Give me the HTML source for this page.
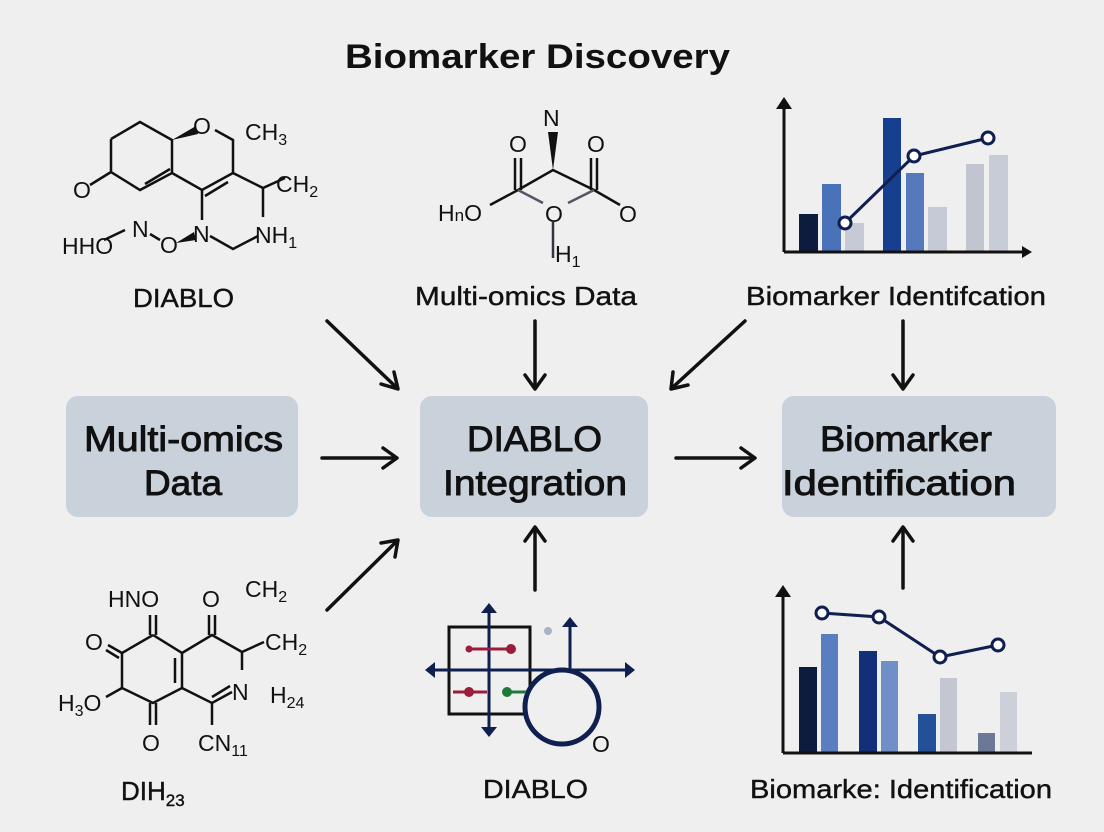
<!DOCTYPE html>
<html><head><meta charset="utf-8"><style>
html,body{margin:0;padding:0;background:#efefef;}
svg{display:block;}
text{font-family:"Liberation Sans",sans-serif;fill:#111;}
</style></head><body>
<svg width="1104" height="832" viewBox="0 0 1104 832" xmlns="http://www.w3.org/2000/svg">
<rect width="1104" height="832" fill="#efefef"/>
<text x="345" y="68" font-size="34" font-weight="bold" textLength="385" lengthAdjust="spacingAndGlyphs">Biomarker Discovery</text>

<!-- boxes -->
<rect x="66" y="396" width="232" height="121" rx="12" fill="#c9d1db"/>
<rect x="420" y="396" width="228" height="121" rx="12" fill="#c9d1db"/>
<rect x="782" y="396" width="274" height="121" rx="12" fill="#c9d1db"/>
<g font-size="35" stroke="#111" stroke-width="0.9">
<text x="84" y="451" textLength="199" lengthAdjust="spacingAndGlyphs">Multi-omics</text>
<text x="144" y="495" textLength="78" lengthAdjust="spacingAndGlyphs">Data</text>
<text x="467" y="451" textLength="135" lengthAdjust="spacingAndGlyphs">DIABLO</text>
<text x="443" y="495" textLength="184" lengthAdjust="spacingAndGlyphs">Integration</text>
<text x="820" y="451" textLength="172" lengthAdjust="spacingAndGlyphs">Biomarker</text>
<text x="782" y="495" textLength="234" lengthAdjust="spacingAndGlyphs">Identification</text>
</g>

<!-- arrows -->
<g stroke="#111" stroke-width="3.5" fill="none" stroke-linecap="round" stroke-linejoin="round">
<line x1="322" y1="458" x2="396" y2="458"/><polyline points="383,448 397,458 383,468"/>
<line x1="676" y1="458" x2="754" y2="458"/><polyline points="741,448 755,458 741,468"/>
<line x1="327" y1="321" x2="397" y2="388"/><polyline points="381,384 398,389 394,372"/>
<line x1="535" y1="321" x2="535" y2="388"/><polyline points="525,375 535,389 545,375"/>
<line x1="745" y1="321" x2="672" y2="388"/><polyline points="673,372 671,389 688,385"/>
<line x1="903" y1="321" x2="903" y2="388"/><polyline points="893,375 903,389 913,375"/>
<line x1="327" y1="610" x2="397" y2="541"/><polyline points="381,543 398,540 395,557"/>
<line x1="535" y1="590" x2="535" y2="528"/><polyline points="525,541 535,527 545,541"/>
<line x1="903" y1="588" x2="903" y2="528"/><polyline points="893,541 903,527 913,541"/>
</g>

<!-- labels -->
<g font-size="26" stroke="#111" stroke-width="0.4">
<text x="133" y="307" textLength="101" lengthAdjust="spacingAndGlyphs">DIABLO</text>
<text x="415" y="305" textLength="222" lengthAdjust="spacingAndGlyphs">Multi-omics Data</text>
<text x="746" y="305" textLength="300" lengthAdjust="spacingAndGlyphs">Biomarker Identifcation</text>
<text x="483" y="798" textLength="105" lengthAdjust="spacingAndGlyphs">DIABLO</text>
<text x="750" y="798" textLength="302" lengthAdjust="spacingAndGlyphs">Biomarke: Identification</text>
<text x="121" y="800">DIH<tspan font-size="17" dy="6">23</tspan></text>
</g>

<!-- top-left molecule -->
<g stroke="#111" stroke-width="2.5" fill="none">
<polyline points="111,139 140,122 172,140 172,173 140,190 111,172 111,139"/>
<line x1="145" y1="184" x2="170" y2="169"/>
<line x1="111" y1="172" x2="90" y2="185"/>
<polyline points="172,173 202,190 233,173 233,140 215,130"/>
<line x1="205" y1="196" x2="228" y2="182"/>
<line x1="202" y1="190" x2="202" y2="220"/>
<polyline points="233,173 263,188 285,178"/>
<line x1="263" y1="188" x2="263" y2="217"/>
<polyline points="210,236 233,249 258,236"/>
<line x1="104" y1="240" x2="125" y2="230"/>
<line x1="150" y1="234" x2="160" y2="240"/>
</g>
<polygon points="172,140 196,126 198,134" fill="#111"/>
<polygon points="176,243 194,232 196,240" fill="#111"/>
<g font-size="23">
<text x="193" y="134">O</text>
<text x="245" y="140">CH<tspan font-size="16" dy="5">3</tspan></text>
<text x="73" y="198">O</text>
<text x="276" y="192">CH<tspan font-size="16" dy="5">2</tspan></text>
<text x="193" y="242">N</text>
<text x="255" y="243">NH<tspan font-size="16" dy="5">1</tspan></text>
<text x="132" y="237">N</text>
<text x="160" y="253">O</text>
<text x="62" y="254">HHO</text>
</g>

<!-- top-middle molecule -->
<g stroke="#111" stroke-width="2.5" fill="none">
<line x1="515" y1="158" x2="515" y2="190"/><line x1="521" y1="158" x2="521" y2="190"/>
<line x1="591" y1="158" x2="591" y2="190"/><line x1="597" y1="158" x2="597" y2="190"/>
<polyline points="490,205 518,190 553,170 594,190 620,205"/>
<polyline points="518,190 543,203" stroke="#556"/>
<polyline points="594,190 568,203" stroke="#556"/>
<line x1="553" y1="222" x2="553" y2="258" stroke="#334"/>
</g>
<polygon points="553,170 548,132 558,132" fill="#111"/>
<g font-size="23">
<text x="543" y="126">N</text>
<text x="509" y="152">O</text>
<text x="587" y="152">O</text>
<text x="438" y="221">H<tspan font-size="17">n</tspan>O</text>
<text x="545" y="222">O</text>
<text x="619" y="222">O</text>
<text x="555" y="262">H<tspan font-size="16" dy="5">1</tspan></text>
</g>

<!-- bottom-left molecule -->
<g stroke="#111" stroke-width="2.5" fill="none">
<polyline points="153,635 182,653 182,688 153,703 122,688 122,653 153,635"/>
<line x1="175" y1="658" x2="175" y2="683"/>
<line x1="150" y1="615" x2="150" y2="635"/><line x1="156" y1="615" x2="156" y2="635"/>
<line x1="150" y1="703" x2="150" y2="725"/><line x1="156" y1="703" x2="156" y2="725"/>
<line x1="122" y1="653" x2="108" y2="645"/><line x1="119" y1="658" x2="106" y2="650"/>
<line x1="122" y1="688" x2="106" y2="697"/>
<polyline points="182,653 212,635 242,652 242,670"/>
<line x1="209" y1="615" x2="209" y2="635"/><line x1="215" y1="615" x2="215" y2="635"/>
<line x1="242" y1="652" x2="264" y2="642"/>
<polyline points="182,688 212,703 232,692"/>
<line x1="212" y1="697" x2="230" y2="686"/>
<line x1="212" y1="703" x2="212" y2="725"/>
</g>
<g font-size="23">
<text x="108" y="607">HNO</text>
<text x="202" y="607">O</text>
<text x="245" y="597">CH<tspan font-size="16" dy="5">2</tspan></text>
<text x="85" y="650">O</text>
<text x="265" y="650">CH<tspan font-size="16" dy="5">2</tspan></text>
<text x="232" y="700">N</text>
<text x="270" y="703">H<tspan font-size="16" dy="5">24</tspan></text>
<text x="58" y="711">H<tspan font-size="16" dy="5">3</tspan><tspan dy="-5">O</tspan></text>
<text x="142" y="751">O</text>
<text x="198" y="751">CN<tspan font-size="16" dy="5">11</tspan></text>
</g>

<!-- bottom-center diagram -->
<g fill="none" stroke-width="3">
<rect x="449" y="627" width="81" height="87" stroke="#111"/>
<line x1="449" y1="670" x2="530" y2="670" stroke="#111"/>
<line x1="430" y1="670" x2="630" y2="670" stroke="#0f1f4f"/>
<line x1="489" y1="608" x2="489" y2="732" stroke="#0f1f4f"/>
<line x1="570" y1="670" x2="570" y2="622" stroke="#0f1f4f"/>
<circle cx="562" cy="707" r="37" stroke="#0f1f4f" stroke-width="5" fill="#efefef"/>
<line x1="468" y1="649" x2="511" y2="649" stroke="#9c1c3c"/>
<line x1="453" y1="692" x2="487" y2="692" stroke="#9c1c3c"/>
<line x1="507" y1="692" x2="526" y2="692" stroke="#1f7a3a"/>
</g>
<g fill="#0f1f4f">
<polygon points="489,603 481,613 497,613"/><polygon points="489,737 481,727 497,727"/>
<polygon points="570,617 562,627 578,627"/>
<polygon points="425,670 435,662 435,678"/><polygon points="635,670 625,662 625,678"/>
</g>
<circle cx="511" cy="649" r="5" fill="#9c1c3c"/><circle cx="469" cy="649" r="3.5" fill="#9c1c3c"/>
<circle cx="469" cy="692" r="5" fill="#9c1c3c"/><circle cx="507" cy="692" r="5" fill="#1f7a3a"/>
<circle cx="548" cy="631" r="4" fill="#a8b2c8"/>
<text x="592" y="752" font-size="23">O</text>

<!-- top-right chart -->
<g>
<rect x="799" y="214" width="19" height="38" fill="#0d1b3e"/>
<rect x="822" y="184" width="19" height="68" fill="#4a72b8"/>
<rect x="845" y="223" width="19" height="29" fill="#c5cad6"/>
<rect x="883" y="118" width="18" height="134" fill="#173f8f"/>
<rect x="906" y="173" width="18" height="79" fill="#5679bd"/>
<rect x="928" y="207" width="19" height="45" fill="#c5cad6"/>
<rect x="966" y="164" width="18" height="88" fill="#c0c5d0"/>
<rect x="989" y="155" width="19" height="97" fill="#c8ccd6"/>
<polyline points="784,252 784,104" stroke="#111" stroke-width="3" fill="none"/>
<polyline points="784,252 1028,252" stroke="#111" stroke-width="3" fill="none"/>
<polygon points="784,97 776,109 792,109" fill="#111"/>
<polygon points="1032,252 1022,246 1022,258" fill="#111"/>
<polyline points="845,223 914,156 988,138" stroke="#0f1f4f" stroke-width="3" fill="none"/>
<g fill="#fff" stroke="#0f1f4f" stroke-width="3"><circle cx="845" cy="223" r="6"/><circle cx="914" cy="156" r="6"/><circle cx="988" cy="138" r="6"/></g>
</g>

<!-- bottom-right chart -->
<g>
<rect x="799" y="667" width="18" height="86" fill="#0d1b3e"/>
<rect x="821" y="634" width="17" height="119" fill="#5a7fc0"/>
<rect x="859" y="651" width="18" height="102" fill="#12307a"/>
<rect x="881" y="661" width="17" height="92" fill="#6f8fc6"/>
<rect x="918" y="714" width="18" height="39" fill="#244f99"/>
<rect x="940" y="678" width="17" height="75" fill="#c2c7d2"/>
<rect x="978" y="733" width="17" height="20" fill="#6b7896"/>
<rect x="1000" y="692" width="17" height="61" fill="#cdd0d8"/>
<line x1="783" y1="753" x2="783" y2="592" stroke="#111" stroke-width="3"/>
<line x1="783" y1="753" x2="1032" y2="753" stroke="#111" stroke-width="3"/>
<polygon points="783,585 775,597 791,597" fill="#111"/>
<polyline points="822,613 879,617 940,657 998,645" stroke="#0f1f4f" stroke-width="3" fill="none"/>
<g fill="#fff" stroke="#0f1f4f" stroke-width="3"><circle cx="822" cy="613" r="6"/><circle cx="879" cy="617" r="6"/><circle cx="940" cy="657" r="6"/><circle cx="998" cy="645" r="6"/></g>
</g>
</svg>
</body></html>
